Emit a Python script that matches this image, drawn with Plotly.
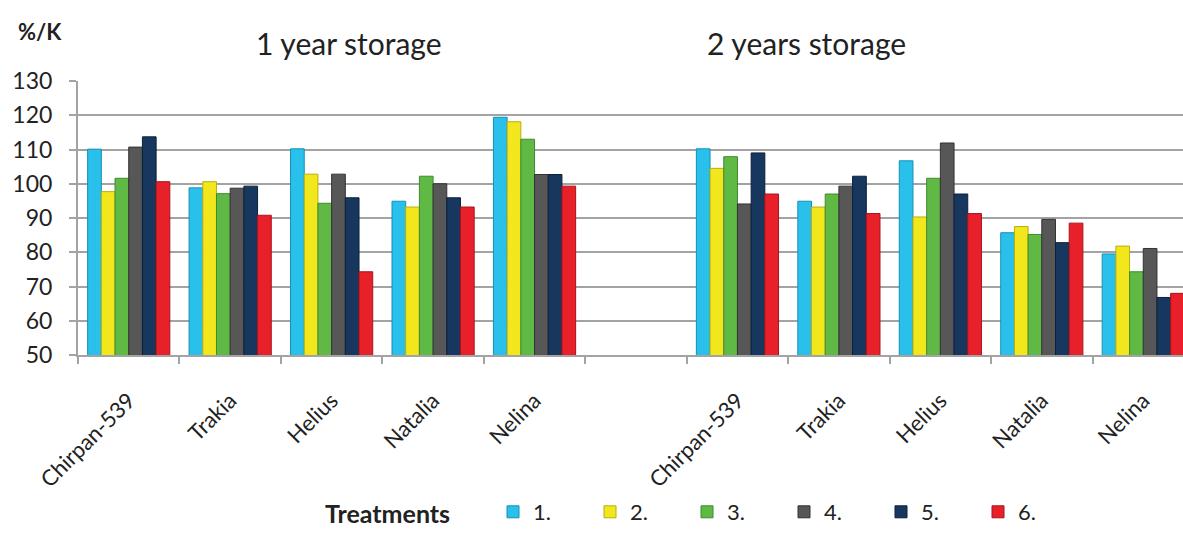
import plotly.graph_objects as go

# Varieties and treatments
varieties = ["Chirpan-539", "Trakia", "Helius", "Natalia", "Nelina"]
treatments = ["1.", "2.", "3.", "4.", "5.", "6."]
panel_titles = ["1 year storage", "2 years storage"]

# Germination relative to control (%/K) after 1 year of storage
one_year_t1 = [110.1, 98.8, 110.2, 94.9, 119.4]
one_year_t2 = [97.7, 100.6, 102.8, 93.2, 118.1]
one_year_t3 = [101.6, 97.1, 94.3, 102.2, 113.0]
one_year_t4 = [110.7, 98.7, 102.8, 100.0, 102.7]
one_year_t5 = [113.7, 99.3, 95.9, 95.9, 102.7]
one_year_t6 = [100.6, 90.8, 74.3, 93.2, 99.3]

# ... and after 2 years of storage
two_years_t1 = [110.2, 94.9, 106.7, 85.7, 79.5]
two_years_t2 = [104.5, 93.2, 90.3, 87.5, 81.8]
two_years_t3 = [107.9, 97.0, 101.6, 85.2, 74.3]
two_years_t4 = [94.1, 99.3, 111.9, 89.6, 81.1]
two_years_t5 = [109.0, 102.2, 97.0, 82.8, 66.8]
two_years_t6 = [97.0, 91.3, 91.3, 88.5, 68.0]

one_year = [one_year_t1, one_year_t2, one_year_t3, one_year_t4, one_year_t5, one_year_t6]
two_years = [two_years_t1, two_years_t2, two_years_t3, two_years_t4, two_years_t5, two_years_t6]

colors = ["#29C1EC", "#F2E71C", "#60B944", "#575757", "#17375E", "#E8202A"]
edge_colors = ["#1590B5", "#B8AE10", "#3F8A2B", "#333333", "#0C203A", "#A8141B"]

FONT = "Lato"
TEXT = "#222222"
GRID = "#A3A3A3"

W, H = 1183, 533
ML, MR, MT, MB = 78, 0, 81, 172
PW, PH = W - ML - MR, H - MT - MB

# Category slots: first panel 0..4, empty slot 5, second panel 6..10
n = len(varieties)
x_pos = list(range(n)) + [n + 1 + i for i in range(n)]
x_labels = varieties + varieties
boundaries = [i - 0.5 for i in range(2 * n + 2)]


def px_to_paper_x(px):
    return (px - ML) / PW


def px_to_paper_y(py):
    return (H - MB - py) / PH


fig = go.Figure()
for k, name in enumerate(treatments):
    fig.add_trace(go.Bar(
        x=x_pos,
        y=one_year[k] + two_years[k],
        name=name,
        marker=dict(color=colors[k], line=dict(color=edge_colors[k], width=1)),
    ))

fig.update_layout(
    width=W, height=H,
    margin=dict(l=ML, r=MR, t=MT, b=MB, pad=0),
    paper_bgcolor="white",
    plot_bgcolor="white",
    barmode="group",
    bargap=0.19,
    bargroupgap=0.0,
    font=dict(family=FONT, size=22, color=TEXT),
    showlegend=True,
    legend=dict(
        orientation="h",
        x=px_to_paper_x(493), xanchor="left",
        y=px_to_paper_y(522), yanchor="middle",
        font=dict(size=22, family=FONT, color=TEXT),
        entrywidth=52, entrywidthmode="pixels",
        itemwidth=30,
        bgcolor="rgba(0,0,0,0)",
    ),
    xaxis=dict(
        range=[-0.5, 2 * n + 0.5 - 11 / 101.5],
        tickmode="array",
        tickvals=x_pos,
        ticktext=x_labels,
        tickangle=-45,
        ticks="outside", ticklen=0, tickcolor=GRID,
        ticklabelstandoff=22,
        tickfont=dict(size=22, family=FONT, color=TEXT),
        showgrid=False,
        showline=True, linecolor=GRID, linewidth=2,
        zeroline=False,
        minor=dict(tickmode="array", tickvals=boundaries, ticks="outside",
                   ticklen=7, tickcolor=GRID, tickwidth=2, showgrid=False),
    ),
    yaxis=dict(
        range=[50, 130],
        tickmode="array",
        tickvals=list(range(50, 131, 10)),
        ticks="outside", ticklen=7, tickcolor=GRID, tickwidth=2,
        ticklabelstandoff=12,
        tickfont=dict(size=23, family=FONT, color=TEXT),
        showgrid=True, gridcolor=GRID, gridwidth=2,
        showline=True, linecolor=GRID, linewidth=2,
        zeroline=False,
    ),
    annotations=[
        dict(text="<b>%/K</b>", xref="paper", yref="paper",
             x=px_to_paper_x(40), y=px_to_paper_y(30),
             xanchor="center", yanchor="middle", showarrow=False,
             font=dict(size=22, family=FONT, color=TEXT)),
        dict(text=panel_titles[0], xref="paper", yref="paper",
             x=px_to_paper_x(349), y=px_to_paper_y(42),
             xanchor="center", yanchor="middle", showarrow=False,
             font=dict(size=30, family=FONT, color=TEXT)),
        dict(text=panel_titles[1], xref="paper", yref="paper",
             x=px_to_paper_x(806), y=px_to_paper_y(42),
             xanchor="center", yanchor="middle", showarrow=False,
             font=dict(size=30, family=FONT, color=TEXT)),
        dict(text="<b>Treatments</b>", xref="paper", yref="paper",
             x=px_to_paper_x(323), y=px_to_paper_y(522),
             xanchor="left", yanchor="middle", showarrow=False,
             font=dict(size=25, family=FONT, color=TEXT)),
    ],
)

fig.write_html("out.html")
